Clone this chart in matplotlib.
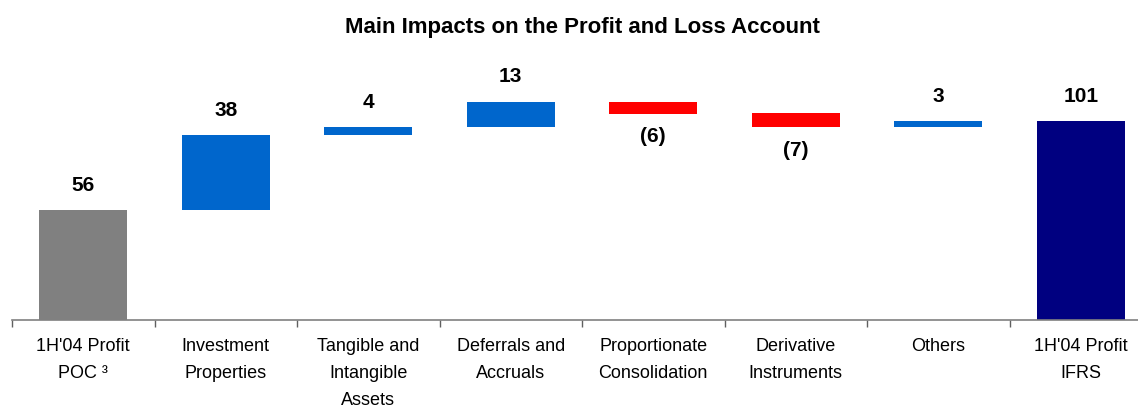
import matplotlib
matplotlib.use('Agg')
import matplotlib.pyplot as plt
import numpy as np

plt.rcParams['font.family'] = ['Liberation Sans', 'DejaVu Sans']

title = 'Main Impacts on the Profit and Loss Account'
categories = ["1H'04 Profit\nPOC ³", 'Investment\nProperties', 'Tangible and\nIntangible\nAssets',
              'Deferrals and\nAccruals', 'Proportionate\nConsolidation', 'Derivative\nInstruments',
              'Others', "1H'04 Profit\nIFRS"]
values = [56, 38, 4, 13, -6, -7, 3, 101]
is_total = [True, False, False, False, False, False, False, True]

def bar_colors(vals, totals):
  cols = []
  for i, (v, t) in enumerate(zip(vals, totals)):
    if t:
      cols.append('#808080' if i == 0 else '#000080')
    elif v >= 0:
      cols.append('#0066CC')
    else:
      cols.append('#FF0000')
  return cols

def waterfall(vals, totals):
  bottoms, heights = [], []
  running = 0
  for v, t in zip(vals, totals):
    if t:
      bottoms.append(0)
      heights.append(v)
      running = v
    else:
      bottoms.append(running if v >= 0 else running + v)
      heights.append(abs(v))
      running += v
  return bottoms, heights

fig = plt.figure(figsize=(11.38, 4.07), dpi=100)
ax = fig.add_axes([12 / 1138, 87 / 407, 1140 / 1138, 236 / 407])

x = np.arange(len(categories))
bottoms, heights = waterfall(values, is_total)
ax.bar(x, heights, bottom=bottoms, width=0.62, color=bar_colors(values, is_total))

for xi, v, b, h, t in zip(x, values, bottoms, heights, is_total):
  if v >= 0 or t:
    ax.annotate(str(v), (xi, b + h), xytext=(0, 11), textcoords='offset points',
                ha='center', va='bottom', fontsize=15, fontweight='bold')
  else:
    ax.annotate('(%d)' % abs(v), (xi, b), xytext=(0, -10), textcoords='offset points',
                ha='center', va='top', fontsize=15, fontweight='bold')

ax.set_xlim(-0.5, len(categories) - 0.5)
ax.set_ylim(0, 120)
ax.set_xticks(x)
ax.set_xticklabels(categories, fontsize=13, linespacing=1.75, va='top')
ax.tick_params(axis='x', which='major', length=0, pad=13)
ax.set_xticks(np.arange(-0.5, len(categories), 1), minor=True)
ax.tick_params(axis='x', which='minor', length=5, width=1, color='#606060')
ax.set_yticks([])
for s in ['top', 'left', 'right']:
  ax.spines[s].set_visible(False)
ax.spines['bottom'].set_color('#808080')
ax.spines['bottom'].set_linewidth(1.2)

fig.text(0.512, 1 - 28 / 407, title, ha='center', va='center', fontsize=16, fontweight='bold')

fig.savefig('out.png', dpi=100)
